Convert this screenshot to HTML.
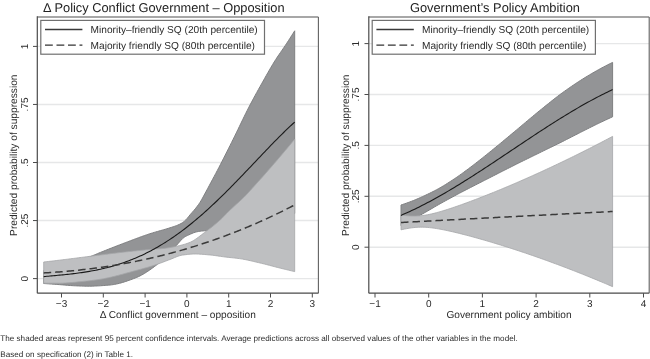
<!DOCTYPE html>
<html><head><meta charset="utf-8"><style>
html,body{margin:0;padding:0;background:#fff;width:650px;height:359px;overflow:hidden}
svg{display:block;will-change:transform}
text{font-family:"Liberation Sans",sans-serif;fill:#2b2b2b;text-rendering:geometricPrecision}
.ti{font-size:12.82px;fill:#222}
.ax{font-size:10.1px}
.lg{font-size:10.13px}
.tk{font-size:10px}
.ft{font-size:8.13px}
</style></head><body>
<svg width="650" height="359" viewBox="0 0 650 359">
<rect width="650" height="359" fill="#fff"/>
<line x1="37.3" y1="278.6" x2="318.4" y2="278.6" stroke="#e6e7e8" stroke-width="1.4"/>
<line x1="37.3" y1="220.55" x2="318.4" y2="220.55" stroke="#e6e7e8" stroke-width="1.4"/>
<line x1="37.3" y1="162.5" x2="318.4" y2="162.5" stroke="#e6e7e8" stroke-width="1.4"/>
<line x1="37.3" y1="104.45" x2="318.4" y2="104.45" stroke="#e6e7e8" stroke-width="1.4"/>
<line x1="37.3" y1="46.4" x2="318.4" y2="46.4" stroke="#e6e7e8" stroke-width="1.4"/>
<path d="M43.70,270.50 L45.28,269.99 L46.86,269.48 L48.44,268.98 L50.01,268.48 L51.59,267.99 L53.17,267.51 L54.75,267.03 L56.33,266.56 L57.91,266.10 L59.49,265.65 L61.06,265.20 L62.64,264.77 L64.22,264.35 L65.80,263.94 L67.38,263.53 L68.96,263.12 L70.54,262.71 L72.12,262.29 L73.69,261.86 L75.27,261.42 L76.85,260.98 L78.43,260.53 L80.01,260.07 L81.59,259.60 L83.17,259.12 L84.74,258.62 L86.32,258.09 L87.90,257.53 L89.48,256.93 L91.06,256.31 L92.64,255.69 L94.22,255.03 L95.79,254.37 L97.37,253.69 L98.95,253.03 L100.53,252.38 L102.11,251.75 L103.69,251.11 L105.27,250.48 L106.84,249.85 L108.42,249.22 L110.00,248.59 L111.58,247.97 L113.16,247.35 L114.74,246.74 L116.32,246.12 L117.89,245.51 L119.47,244.90 L121.05,244.30 L122.63,243.70 L124.21,243.10 L125.79,242.50 L127.37,241.90 L128.95,241.31 L130.52,240.71 L132.10,240.11 L133.68,239.51 L135.26,238.92 L136.84,238.33 L138.42,237.75 L140.00,237.17 L141.57,236.60 L143.15,236.03 L144.73,235.48 L146.31,234.93 L147.89,234.40 L149.47,233.87 L151.05,233.37 L152.62,232.88 L154.20,232.40 L155.78,231.94 L157.36,231.49 L158.94,231.05 L160.52,230.60 L162.10,230.16 L163.67,229.71 L165.25,229.26 L166.83,228.79 L168.41,228.30 L169.99,227.80 L171.57,227.30 L173.15,226.79 L174.73,226.26 L176.30,225.69 L177.88,225.05 L179.46,224.34 L181.04,223.54 L182.62,222.60 L184.20,221.45 L185.78,219.92 L187.35,218.20 L188.93,216.21 L190.51,214.28 L192.09,212.49 L193.67,210.71 L195.25,208.82 L196.83,206.82 L198.40,204.72 L199.98,202.43 L201.56,199.82 L203.14,196.95 L204.72,194.01 L206.30,191.12 L207.88,188.17 L209.45,185.21 L211.03,182.26 L212.61,179.32 L214.19,176.38 L215.77,173.42 L217.35,170.44 L218.93,167.41 L220.51,164.36 L222.08,161.28 L223.66,158.18 L225.24,155.07 L226.82,151.94 L228.40,148.80 L229.98,145.65 L231.56,142.49 L233.13,139.33 L234.71,136.13 L236.29,132.90 L237.87,129.64 L239.45,126.36 L241.03,123.09 L242.61,119.82 L244.18,116.58 L245.76,113.37 L247.34,110.22 L248.92,107.12 L250.50,104.09 L252.08,101.11 L253.66,98.16 L255.23,95.26 L256.81,92.38 L258.39,89.54 L259.97,86.71 L261.55,83.90 L263.13,81.10 L264.71,78.29 L266.28,75.49 L267.86,72.71 L269.44,69.95 L271.02,67.23 L272.60,64.57 L274.18,61.98 L275.76,59.47 L277.34,57.06 L278.91,54.74 L280.49,52.46 L282.07,50.19 L283.65,47.90 L285.23,45.56 L286.81,43.16 L288.39,40.73 L289.96,38.28 L291.54,35.81 L293.12,33.32 L294.70,30.80 L294.70,213.38 L293.12,213.82 L291.54,214.30 L289.96,214.81 L288.39,215.35 L286.81,215.92 L285.23,216.52 L283.65,217.14 L282.07,217.81 L280.49,218.58 L278.91,219.40 L277.34,220.25 L275.76,221.10 L274.18,221.90 L272.60,222.62 L271.02,223.25 L269.44,223.84 L267.86,224.38 L266.28,224.91 L264.71,225.40 L263.13,225.89 L261.55,226.36 L259.97,226.83 L258.39,227.33 L256.81,227.84 L255.23,228.35 L253.66,228.82 L252.08,229.22 L250.50,229.52 L248.92,229.71 L247.34,229.84 L245.76,229.95 L244.18,230.04 L242.61,230.12 L241.03,230.19 L239.45,230.25 L237.87,230.29 L236.29,230.33 L234.71,230.36 L233.13,230.39 L231.56,230.41 L229.98,230.43 L228.40,230.45 L226.82,230.47 L225.24,230.49 L223.66,230.50 L222.08,230.51 L220.51,230.52 L218.93,230.53 L217.35,230.54 L215.77,230.56 L214.19,230.57 L212.61,230.60 L211.03,230.63 L209.45,230.66 L207.88,230.70 L206.30,230.75 L204.72,230.81 L203.14,230.91 L201.56,231.05 L199.98,231.23 L198.40,231.48 L196.83,231.82 L195.25,232.23 L193.67,232.74 L192.09,233.40 L190.51,234.12 L188.93,234.81 L187.35,235.51 L185.78,236.30 L184.20,237.27 L182.62,238.58 L181.04,240.18 L179.46,241.95 L177.88,243.78 L176.30,245.56 L174.73,247.18 L173.15,248.80 L171.57,250.45 L169.99,252.10 L168.41,253.75 L166.83,255.40 L165.25,257.01 L163.67,258.60 L162.10,260.13 L160.52,261.61 L158.94,263.01 L157.36,264.34 L155.78,265.56 L154.20,266.75 L152.62,267.91 L151.05,269.04 L149.47,270.15 L147.89,271.23 L146.31,272.26 L144.73,273.25 L143.15,274.19 L141.57,275.08 L140.00,275.90 L138.42,276.67 L136.84,277.36 L135.26,277.99 L133.68,278.60 L132.10,279.20 L130.52,279.79 L128.95,280.36 L127.37,280.92 L125.79,281.45 L124.21,281.96 L122.63,282.44 L121.05,282.90 L119.47,283.32 L117.89,283.70 L116.32,284.05 L114.74,284.35 L113.16,284.62 L111.58,284.83 L110.00,285.00 L108.42,285.14 L106.84,285.27 L105.27,285.40 L103.69,285.53 L102.11,285.64 L100.53,285.75 L98.95,285.85 L97.37,285.94 L95.79,286.01 L94.22,286.08 L92.64,286.13 L91.06,286.17 L89.48,286.19 L87.90,286.20 L86.32,286.19 L84.74,286.16 L83.17,286.12 L81.59,286.07 L80.01,286.01 L78.43,285.95 L76.85,285.88 L75.27,285.81 L73.69,285.74 L72.12,285.64 L70.54,285.54 L68.96,285.42 L67.38,285.29 L65.80,285.16 L64.22,285.02 L62.64,284.89 L61.06,284.76 L59.49,284.64 L57.91,284.52 L56.33,284.40 L54.75,284.29 L53.17,284.18 L51.59,284.06 L50.01,283.95 L48.44,283.84 L46.86,283.72 L45.28,283.61 L43.70,283.50 Z" fill="#939496" stroke="#7f8082" stroke-width="1.0"/>
<path d="M43.70,262.00 L45.28,261.82 L46.86,261.64 L48.44,261.46 L50.01,261.28 L51.59,261.10 L53.17,260.91 L54.75,260.73 L56.33,260.54 L57.91,260.35 L59.49,260.16 L61.06,259.97 L62.64,259.78 L64.22,259.59 L65.80,259.39 L67.38,259.19 L68.96,259.00 L70.54,258.80 L72.12,258.60 L73.69,258.40 L75.27,258.20 L76.85,258.00 L78.43,257.80 L80.01,257.59 L81.59,257.39 L83.17,257.19 L84.74,256.99 L86.32,256.78 L87.90,256.58 L89.48,256.37 L91.06,256.17 L92.64,255.97 L94.22,255.76 L95.79,255.55 L97.37,255.34 L98.95,255.13 L100.53,254.93 L102.11,254.73 L103.69,254.54 L105.27,254.34 L106.84,254.14 L108.42,253.95 L110.00,253.75 L111.58,253.56 L113.16,253.37 L114.74,253.18 L116.32,252.99 L117.89,252.80 L119.47,252.62 L121.05,252.44 L122.63,252.26 L124.21,252.09 L125.79,251.91 L127.37,251.74 L128.95,251.57 L130.52,251.41 L132.10,251.24 L133.68,251.07 L135.26,250.91 L136.84,250.75 L138.42,250.59 L140.00,250.44 L141.57,250.28 L143.15,250.13 L144.73,249.98 L146.31,249.83 L147.89,249.69 L149.47,249.55 L151.05,249.41 L152.62,249.29 L154.20,249.17 L155.78,249.06 L157.36,248.95 L158.94,248.84 L160.52,248.72 L162.10,248.59 L163.67,248.44 L165.25,248.27 L166.83,248.07 L168.41,247.83 L169.99,247.57 L171.57,247.27 L173.15,246.96 L174.73,246.64 L176.30,246.31 L177.88,245.97 L179.46,245.61 L181.04,245.23 L182.62,244.82 L184.20,244.38 L185.78,243.90 L187.35,243.37 L188.93,242.80 L190.51,242.14 L192.09,241.35 L193.67,240.44 L195.25,239.43 L196.83,238.34 L198.40,237.19 L199.98,236.00 L201.56,234.80 L203.14,233.59 L204.72,232.40 L206.30,231.24 L207.88,230.07 L209.45,228.87 L211.03,227.65 L212.61,226.40 L214.19,225.12 L215.77,223.81 L217.35,222.47 L218.93,221.09 L220.51,219.66 L222.08,218.14 L223.66,216.54 L225.24,214.91 L226.82,213.28 L228.40,211.69 L229.98,210.16 L231.56,208.68 L233.13,207.23 L234.71,205.79 L236.29,204.37 L237.87,202.95 L239.45,201.51 L241.03,200.05 L242.61,198.56 L244.18,197.02 L245.76,195.42 L247.34,193.75 L248.92,192.03 L250.50,190.27 L252.08,188.50 L253.66,186.72 L255.23,184.96 L256.81,183.22 L258.39,181.48 L259.97,179.74 L261.55,177.98 L263.13,176.21 L264.71,174.42 L266.28,172.63 L267.86,170.83 L269.44,169.02 L271.02,167.21 L272.60,165.39 L274.18,163.57 L275.76,161.74 L277.34,159.90 L278.91,158.06 L280.49,156.21 L282.07,154.35 L283.65,152.48 L285.23,150.61 L286.81,148.73 L288.39,146.84 L289.96,144.95 L291.54,143.04 L293.12,141.12 L294.70,139.20 L294.70,271.60 L293.12,271.23 L291.54,270.86 L289.96,270.49 L288.39,270.11 L286.81,269.73 L285.23,269.35 L283.65,268.97 L282.07,268.58 L280.49,268.20 L278.91,267.80 L277.34,267.40 L275.76,267.00 L274.18,266.59 L272.60,266.17 L271.02,265.76 L269.44,265.34 L267.86,264.93 L266.28,264.52 L264.71,264.12 L263.13,263.73 L261.55,263.34 L259.97,262.97 L258.39,262.60 L256.81,262.22 L255.23,261.85 L253.66,261.47 L252.08,261.10 L250.50,260.74 L248.92,260.38 L247.34,260.04 L245.76,259.71 L244.18,259.41 L242.61,259.12 L241.03,258.86 L239.45,258.62 L237.87,258.41 L236.29,258.21 L234.71,258.04 L233.13,257.87 L231.56,257.70 L229.98,257.54 L228.40,257.38 L226.82,257.20 L225.24,257.02 L223.66,256.81 L222.08,256.60 L220.51,256.37 L218.93,256.13 L217.35,255.90 L215.77,255.67 L214.19,255.46 L212.61,255.26 L211.03,255.09 L209.45,254.94 L207.88,254.80 L206.30,254.65 L204.72,254.51 L203.14,254.38 L201.56,254.26 L199.98,254.16 L198.40,254.08 L196.83,254.02 L195.25,254.00 L193.67,254.02 L192.09,254.08 L190.51,254.18 L188.93,254.32 L187.35,254.48 L185.78,254.67 L184.20,254.88 L182.62,255.11 L181.04,255.37 L179.46,255.78 L177.88,256.30 L176.30,256.90 L174.73,257.56 L173.15,258.24 L171.57,258.89 L169.99,259.50 L168.41,260.09 L166.83,260.68 L165.25,261.28 L163.67,261.89 L162.10,262.49 L160.52,263.09 L158.94,263.67 L157.36,264.24 L155.78,264.78 L154.20,265.29 L152.62,265.79 L151.05,266.28 L149.47,266.75 L147.89,267.22 L146.31,267.67 L144.73,268.12 L143.15,268.56 L141.57,269.00 L140.00,269.43 L138.42,269.85 L136.84,270.28 L135.26,270.70 L133.68,271.12 L132.10,271.55 L130.52,271.99 L128.95,272.42 L127.37,272.86 L125.79,273.29 L124.21,273.73 L122.63,274.16 L121.05,274.58 L119.47,275.01 L117.89,275.42 L116.32,275.83 L114.74,276.23 L113.16,276.61 L111.58,276.99 L110.00,277.36 L108.42,277.71 L106.84,278.04 L105.27,278.36 L103.69,278.67 L102.11,278.95 L100.53,279.22 L98.95,279.46 L97.37,279.70 L95.79,279.92 L94.22,280.14 L92.64,280.34 L91.06,280.54 L89.48,280.72 L87.90,280.90 L86.32,281.07 L84.74,281.23 L83.17,281.39 L81.59,281.54 L80.01,281.69 L78.43,281.85 L76.85,282.01 L75.27,282.16 L73.69,282.32 L72.12,282.47 L70.54,282.61 L68.96,282.75 L67.38,282.87 L65.80,282.97 L64.22,283.06 L62.64,283.13 L61.06,283.18 L59.49,283.20 L57.91,283.20 L56.33,283.20 L54.75,283.20 L53.17,283.20 L51.59,283.20 L50.01,283.20 L48.44,283.20 L46.86,283.20 L45.28,283.20 L43.70,283.20 Z" fill="#bebfc1" stroke="#a5a6a8" stroke-width="0.8"/>
<path d="M43.70,276.60 L45.28,276.46 L46.86,276.32 L48.44,276.18 L50.01,276.04 L51.59,275.90 L53.17,275.75 L54.75,275.61 L56.33,275.46 L57.91,275.32 L59.49,275.17 L61.06,275.02 L62.64,274.86 L64.22,274.70 L65.80,274.54 L67.38,274.37 L68.96,274.20 L70.54,274.02 L72.12,273.83 L73.69,273.65 L75.27,273.45 L76.85,273.25 L78.43,273.04 L80.01,272.82 L81.59,272.60 L83.17,272.36 L84.74,272.12 L86.32,271.87 L87.90,271.61 L89.48,271.34 L91.06,271.07 L92.64,270.78 L94.22,270.48 L95.79,270.17 L97.37,269.85 L98.95,269.52 L100.53,269.17 L102.11,268.82 L103.69,268.45 L105.27,268.07 L106.84,267.68 L108.42,267.27 L110.00,266.85 L111.58,266.42 L113.16,265.98 L114.74,265.52 L116.32,265.04 L117.89,264.56 L119.47,264.05 L121.05,263.54 L122.63,263.00 L124.21,262.46 L125.79,261.89 L127.37,261.31 L128.95,260.72 L130.52,260.11 L132.10,259.48 L133.68,258.84 L135.26,258.18 L136.84,257.51 L138.42,256.81 L140.00,256.10 L141.57,255.38 L143.15,254.64 L144.73,253.88 L146.31,253.10 L147.89,252.31 L149.47,251.49 L151.05,250.66 L152.62,249.82 L154.20,248.95 L155.78,248.07 L157.36,247.17 L158.94,246.26 L160.52,245.32 L162.10,244.37 L163.67,243.40 L165.25,242.41 L166.83,241.41 L168.41,240.38 L169.99,239.34 L171.57,238.28 L173.15,237.21 L174.73,236.11 L176.30,235.00 L177.88,233.88 L179.46,232.73 L181.04,231.57 L182.62,230.39 L184.20,229.19 L185.78,227.98 L187.35,226.75 L188.93,225.50 L190.51,224.24 L192.09,222.96 L193.67,221.67 L195.25,220.36 L196.83,219.03 L198.40,217.69 L199.98,216.33 L201.56,214.96 L203.14,213.58 L204.72,212.18 L206.30,210.76 L207.88,209.33 L209.45,207.89 L211.03,206.43 L212.61,204.96 L214.19,203.48 L215.77,201.99 L217.35,200.48 L218.93,198.96 L220.51,197.43 L222.08,195.89 L223.66,194.34 L225.24,192.78 L226.82,191.21 L228.40,189.62 L229.98,188.03 L231.56,186.44 L233.13,184.83 L234.71,183.22 L236.29,181.59 L237.87,179.97 L239.45,178.33 L241.03,176.69 L242.61,175.05 L244.18,173.40 L245.76,171.74 L247.34,170.09 L248.92,168.43 L250.50,166.76 L252.08,165.10 L253.66,163.43 L255.23,161.77 L256.81,160.10 L258.39,158.44 L259.97,156.77 L261.55,155.11 L263.13,153.46 L264.71,151.80 L266.28,150.15 L267.86,148.51 L269.44,146.87 L271.02,145.23 L272.60,143.61 L274.18,141.99 L275.76,140.38 L277.34,138.78 L278.91,137.20 L280.49,135.62 L282.07,134.05 L283.65,132.50 L285.23,130.97 L286.81,129.44 L288.39,127.94 L289.96,126.45 L291.54,124.98 L293.12,123.53 L294.70,122.09" fill="none" stroke="#1a1a1a" stroke-width="1.1"/>
<path d="M43.70,272.91 L45.28,272.83 L46.86,272.74 L48.44,272.64 L50.01,272.54 L51.59,272.44 L53.17,272.34 L54.75,272.23 L56.33,272.11 L57.91,272.00 L59.49,271.88 L61.06,271.75 L62.64,271.63 L64.22,271.49 L65.80,271.36 L67.38,271.22 L68.96,271.08 L70.54,270.93 L72.12,270.78 L73.69,270.63 L75.27,270.47 L76.85,270.30 L78.43,270.14 L80.01,269.97 L81.59,269.79 L83.17,269.62 L84.74,269.43 L86.32,269.25 L87.90,269.06 L89.48,268.86 L91.06,268.67 L92.64,268.46 L94.22,268.26 L95.79,268.05 L97.37,267.83 L98.95,267.62 L100.53,267.39 L102.11,267.17 L103.69,266.94 L105.27,266.70 L106.84,266.46 L108.42,266.22 L110.00,265.97 L111.58,265.72 L113.16,265.47 L114.74,265.21 L116.32,264.94 L117.89,264.68 L119.47,264.40 L121.05,264.13 L122.63,263.85 L124.21,263.56 L125.79,263.27 L127.37,262.98 L128.95,262.68 L130.52,262.38 L132.10,262.07 L133.68,261.76 L135.26,261.45 L136.84,261.13 L138.42,260.80 L140.00,260.47 L141.57,260.14 L143.15,259.80 L144.73,259.46 L146.31,259.11 L147.89,258.76 L149.47,258.41 L151.05,258.05 L152.62,257.69 L154.20,257.32 L155.78,256.94 L157.36,256.57 L158.94,256.18 L160.52,255.80 L162.10,255.41 L163.67,255.01 L165.25,254.61 L166.83,254.20 L168.41,253.79 L169.99,253.38 L171.57,252.96 L173.15,252.54 L174.73,252.11 L176.30,251.68 L177.88,251.24 L179.46,250.79 L181.04,250.35 L182.62,249.90 L184.20,249.44 L185.78,248.98 L187.35,248.51 L188.93,248.04 L190.51,247.56 L192.09,247.08 L193.67,246.60 L195.25,246.11 L196.83,245.61 L198.40,245.11 L199.98,244.61 L201.56,244.10 L203.14,243.58 L204.72,243.06 L206.30,242.54 L207.88,242.01 L209.45,241.47 L211.03,240.93 L212.61,240.39 L214.19,239.84 L215.77,239.29 L217.35,238.73 L218.93,238.16 L220.51,237.59 L222.08,237.02 L223.66,236.44 L225.24,235.85 L226.82,235.26 L228.40,234.67 L229.98,234.07 L231.56,233.46 L233.13,232.85 L234.71,232.24 L236.29,231.62 L237.87,230.99 L239.45,230.36 L241.03,229.72 L242.61,229.08 L244.18,228.44 L245.76,227.78 L247.34,227.13 L248.92,226.46 L250.50,225.80 L252.08,225.12 L253.66,224.44 L255.23,223.76 L256.81,223.07 L258.39,222.38 L259.97,221.68 L261.55,220.97 L263.13,220.26 L264.71,219.55 L266.28,218.82 L267.86,218.10 L269.44,217.37 L271.02,216.63 L272.60,215.89 L274.18,215.14 L275.76,214.38 L277.34,213.62 L278.91,212.86 L280.49,212.09 L282.07,211.31 L283.65,210.53 L285.23,209.74 L286.81,208.95 L288.39,208.15 L289.96,207.35 L291.54,206.54 L293.12,205.72 L294.70,204.90" fill="none" stroke="#3a3a3a" stroke-width="1.5" stroke-dasharray="7.5,4"/>
<line x1="37.3" y1="17" x2="318.4" y2="17" stroke="#8a8a8a" stroke-width="1.4"/>
<line x1="318.4" y1="17" x2="318.4" y2="293.2" stroke="#606060" stroke-width="1.1"/>
<line x1="37.3" y1="16.3" x2="37.3" y2="293.2" stroke="#4a4a4a" stroke-width="1.2"/>
<line x1="37.3" y1="293.2" x2="318.4" y2="293.2" stroke="#4a4a4a" stroke-width="1.2"/>
<line x1="33.0" y1="278.6" x2="37.3" y2="278.6" stroke="#4a4a4a" stroke-width="1"/>
<text transform="translate(27.799999999999997,278.6) rotate(-90)" text-anchor="middle" class="tk">0</text>
<line x1="33.0" y1="220.55" x2="37.3" y2="220.55" stroke="#4a4a4a" stroke-width="1"/>
<text transform="translate(27.799999999999997,220.55) rotate(-90)" text-anchor="middle" class="tk">.25</text>
<line x1="33.0" y1="162.5" x2="37.3" y2="162.5" stroke="#4a4a4a" stroke-width="1"/>
<text transform="translate(27.799999999999997,162.5) rotate(-90)" text-anchor="middle" class="tk">.5</text>
<line x1="33.0" y1="104.45" x2="37.3" y2="104.45" stroke="#4a4a4a" stroke-width="1"/>
<text transform="translate(27.799999999999997,104.45) rotate(-90)" text-anchor="middle" class="tk">.75</text>
<line x1="33.0" y1="46.4" x2="37.3" y2="46.4" stroke="#4a4a4a" stroke-width="1"/>
<text transform="translate(27.799999999999997,46.4) rotate(-90)" text-anchor="middle" class="tk">1</text>
<line x1="61.500000000000014" y1="293.2" x2="61.500000000000014" y2="297.5" stroke="#4a4a4a" stroke-width="1"/>
<text x="61.500000000000014" y="306.9" text-anchor="middle" class="tk">−3</text>
<line x1="103.30000000000001" y1="293.2" x2="103.30000000000001" y2="297.5" stroke="#4a4a4a" stroke-width="1"/>
<text x="103.30000000000001" y="306.9" text-anchor="middle" class="tk">−2</text>
<line x1="145.10000000000002" y1="293.2" x2="145.10000000000002" y2="297.5" stroke="#4a4a4a" stroke-width="1"/>
<text x="145.10000000000002" y="306.9" text-anchor="middle" class="tk">−1</text>
<line x1="186.9" y1="293.2" x2="186.9" y2="297.5" stroke="#4a4a4a" stroke-width="1"/>
<text x="186.9" y="306.9" text-anchor="middle" class="tk">0</text>
<line x1="228.7" y1="293.2" x2="228.7" y2="297.5" stroke="#4a4a4a" stroke-width="1"/>
<text x="228.7" y="306.9" text-anchor="middle" class="tk">1</text>
<line x1="270.5" y1="293.2" x2="270.5" y2="297.5" stroke="#4a4a4a" stroke-width="1"/>
<text x="270.5" y="306.9" text-anchor="middle" class="tk">2</text>
<line x1="312.3" y1="293.2" x2="312.3" y2="297.5" stroke="#4a4a4a" stroke-width="1"/>
<text x="312.3" y="306.9" text-anchor="middle" class="tk">3</text>
<text x="43.1" y="11.5" class="ti">Δ Policy Conflict Government – Opposition</text>
<text x="177.85" y="318" text-anchor="middle" class="ax">Δ Conflict government – opposition</text>
<text transform="translate(16.999999999999996,155.2) rotate(-90)" text-anchor="middle" class="ax" style="font-size:10.2px">Predicted probability of suppression</text>
<rect x="40.8" y="20.4" width="223.7" height="33.800000000000004" fill="#fff" stroke="#707070" stroke-width="1.2"/>
<line x1="45.0" y1="29.5" x2="82.4" y2="29.5" stroke="#3a3a3a" stroke-width="1.3"/>
<line x1="45.0" y1="45.2" x2="82.4" y2="45.2" stroke="#333" stroke-width="1.25" stroke-dasharray="7.8,3.7"/>
<text x="90.6" y="33.3" class="lg">Minority–friendly SQ (20th percentile)</text>
<text x="90.6" y="48.8" class="lg">Majority friendly SQ (80th percentile)</text>
<line x1="368.8" y1="247.2" x2="649.2" y2="247.2" stroke="#e6e7e8" stroke-width="1.4"/>
<line x1="368.8" y1="196.3" x2="649.2" y2="196.3" stroke="#e6e7e8" stroke-width="1.4"/>
<line x1="368.8" y1="145.4" x2="649.2" y2="145.4" stroke="#e6e7e8" stroke-width="1.4"/>
<line x1="368.8" y1="94.5" x2="649.2" y2="94.5" stroke="#e6e7e8" stroke-width="1.4"/>
<line x1="368.8" y1="43.6" x2="649.2" y2="43.6" stroke="#e6e7e8" stroke-width="1.4"/>
<path d="M401.00,204.99 L402.78,204.41 L404.56,203.81 L406.33,203.20 L408.11,202.56 L409.89,201.90 L411.67,201.22 L413.45,200.52 L415.23,199.80 L417.00,199.06 L418.78,198.29 L420.56,197.50 L422.34,196.69 L424.12,195.88 L425.89,195.05 L427.67,194.21 L429.45,193.35 L431.23,192.48 L433.01,191.58 L434.78,190.66 L436.56,189.72 L438.34,188.75 L440.12,187.76 L441.90,186.73 L443.68,185.67 L445.45,184.58 L447.23,183.47 L449.01,182.33 L450.79,181.18 L452.57,180.02 L454.34,178.85 L456.12,177.66 L457.90,176.44 L459.68,175.20 L461.46,173.92 L463.24,172.63 L465.01,171.32 L466.79,170.00 L468.57,168.67 L470.35,167.33 L472.13,165.99 L473.90,164.63 L475.68,163.26 L477.46,161.87 L479.24,160.48 L481.02,159.07 L482.79,157.66 L484.57,156.24 L486.35,154.81 L488.13,153.38 L489.91,151.94 L491.69,150.50 L493.46,149.05 L495.24,147.60 L497.02,146.15 L498.80,144.69 L500.58,143.22 L502.35,141.75 L504.13,140.27 L505.91,138.80 L507.69,137.31 L509.47,135.83 L511.25,134.35 L513.02,132.86 L514.80,131.38 L516.58,129.89 L518.36,128.40 L520.14,126.91 L521.91,125.41 L523.69,123.92 L525.47,122.42 L527.25,120.93 L529.03,119.43 L530.81,117.94 L532.58,116.46 L534.36,114.98 L536.14,113.52 L537.92,112.06 L539.70,110.61 L541.47,109.17 L543.25,107.73 L545.03,106.29 L546.81,104.86 L548.59,103.43 L550.36,102.01 L552.14,100.60 L553.92,99.20 L555.70,97.81 L557.48,96.45 L559.26,95.10 L561.03,93.77 L562.81,92.47 L564.59,91.19 L566.37,89.93 L568.15,88.69 L569.92,87.46 L571.70,86.24 L573.48,85.04 L575.26,83.84 L577.04,82.67 L578.82,81.51 L580.59,80.36 L582.37,79.23 L584.15,78.12 L585.93,77.02 L587.71,75.94 L589.48,74.88 L591.26,73.83 L593.04,72.80 L594.82,71.78 L596.60,70.77 L598.37,69.78 L600.15,68.80 L601.93,67.84 L603.71,66.89 L605.49,65.96 L607.27,65.04 L609.04,64.15 L610.82,63.27 L612.60,62.42 L612.60,116.82 L610.82,117.62 L609.04,118.44 L607.27,119.26 L605.49,120.08 L603.71,120.92 L601.93,121.75 L600.15,122.60 L598.37,123.45 L596.60,124.31 L594.82,125.18 L593.04,126.06 L591.26,126.94 L589.48,127.83 L587.71,128.73 L585.93,129.62 L584.15,130.52 L582.37,131.42 L580.59,132.32 L578.82,133.23 L577.04,134.13 L575.26,135.04 L573.48,135.94 L571.70,136.85 L569.92,137.77 L568.15,138.68 L566.37,139.59 L564.59,140.51 L562.81,141.42 L561.03,142.31 L559.26,143.20 L557.48,144.07 L555.70,144.94 L553.92,145.81 L552.14,146.66 L550.36,147.52 L548.59,148.38 L546.81,149.24 L545.03,150.10 L543.25,150.96 L541.47,151.84 L539.70,152.72 L537.92,153.60 L536.14,154.47 L534.36,155.34 L532.58,156.21 L530.81,157.08 L529.03,157.95 L527.25,158.82 L525.47,159.69 L523.69,160.56 L521.91,161.43 L520.14,162.31 L518.36,163.19 L516.58,164.08 L514.80,164.98 L513.02,165.87 L511.25,166.77 L509.47,167.67 L507.69,168.56 L505.91,169.46 L504.13,170.36 L502.35,171.26 L500.58,172.16 L498.80,173.07 L497.02,173.97 L495.24,174.88 L493.46,175.79 L491.69,176.70 L489.91,177.61 L488.13,178.52 L486.35,179.43 L484.57,180.33 L482.79,181.23 L481.02,182.14 L479.24,183.05 L477.46,183.95 L475.68,184.86 L473.90,185.78 L472.13,186.69 L470.35,187.61 L468.57,188.54 L466.79,189.45 L465.01,190.36 L463.24,191.27 L461.46,192.19 L459.68,193.11 L457.90,194.05 L456.12,195.00 L454.34,195.97 L452.57,196.94 L450.79,197.90 L449.01,198.87 L447.23,199.83 L445.45,200.80 L443.68,201.77 L441.90,202.76 L440.12,203.76 L438.34,204.77 L436.56,205.79 L434.78,206.82 L433.01,207.86 L431.23,208.90 L429.45,209.93 L427.67,210.97 L425.89,212.00 L424.12,213.02 L422.34,214.03 L420.56,215.04 L418.78,216.03 L417.00,217.02 L415.23,218.01 L413.45,219.00 L411.67,219.98 L409.89,220.96 L408.11,221.94 L406.33,222.91 L404.56,223.88 L402.78,224.84 L401.00,225.79 Z" fill="#939496" stroke="#7f8082" stroke-width="1.0"/>
<path d="M401.00,215.16 L402.78,215.36 L404.56,215.54 L406.33,215.70 L408.11,215.83 L409.89,215.93 L411.67,216.00 L413.45,216.03 L415.23,216.02 L417.00,215.97 L418.78,215.87 L420.56,215.72 L422.34,215.53 L424.12,215.30 L425.89,215.02 L427.67,214.70 L429.45,214.35 L431.23,213.97 L433.01,213.55 L434.78,213.11 L436.56,212.65 L438.34,212.16 L440.12,211.66 L441.90,211.14 L443.68,210.60 L445.45,210.05 L447.23,209.49 L449.01,208.91 L450.79,208.33 L452.57,207.74 L454.34,207.14 L456.12,206.52 L457.90,205.91 L459.68,205.28 L461.46,204.65 L463.24,204.01 L465.01,203.37 L466.79,202.72 L468.57,202.06 L470.35,201.40 L472.13,200.73 L473.90,200.06 L475.68,199.38 L477.46,198.70 L479.24,198.02 L481.02,197.33 L482.79,196.63 L484.57,195.93 L486.35,195.23 L488.13,194.52 L489.91,193.81 L491.69,193.10 L493.46,192.38 L495.24,191.66 L497.02,190.93 L498.80,190.20 L500.58,189.47 L502.35,188.73 L504.13,187.99 L505.91,187.24 L507.69,186.49 L509.47,185.74 L511.25,184.98 L513.02,184.22 L514.80,183.46 L516.58,182.69 L518.36,181.92 L520.14,181.15 L521.91,180.37 L523.69,179.59 L525.47,178.81 L527.25,178.02 L529.03,177.23 L530.81,176.44 L532.58,175.64 L534.36,174.84 L536.14,174.04 L537.92,173.23 L539.70,172.42 L541.47,171.61 L543.25,170.79 L545.03,169.97 L546.81,169.14 L548.59,168.32 L550.36,167.49 L552.14,166.65 L553.92,165.82 L555.70,164.98 L557.48,164.13 L559.26,163.29 L561.03,162.44 L562.81,161.58 L564.59,160.73 L566.37,159.87 L568.15,159.00 L569.92,158.14 L571.70,157.27 L573.48,156.40 L575.26,155.52 L577.04,154.64 L578.82,153.76 L580.59,152.87 L582.37,151.99 L584.15,151.09 L585.93,150.20 L587.71,149.30 L589.48,148.40 L591.26,147.50 L593.04,146.59 L594.82,145.68 L596.60,144.76 L598.37,143.85 L600.15,142.93 L601.93,142.00 L603.71,141.07 L605.49,140.14 L607.27,139.21 L609.04,138.28 L610.82,137.34 L612.60,136.39 L612.60,286.66 L610.82,285.89 L609.04,285.13 L607.27,284.37 L605.49,283.62 L603.71,282.87 L601.93,282.12 L600.15,281.38 L598.37,280.64 L596.60,279.90 L594.82,279.17 L593.04,278.44 L591.26,277.71 L589.48,276.99 L587.71,276.26 L585.93,275.55 L584.15,274.83 L582.37,274.12 L580.59,273.41 L578.82,272.71 L577.04,272.01 L575.26,271.31 L573.48,270.61 L571.70,269.92 L569.92,269.24 L568.15,268.55 L566.37,267.87 L564.59,267.19 L562.81,266.52 L561.03,265.84 L559.26,265.18 L557.48,264.51 L555.70,263.85 L553.92,263.19 L552.14,262.54 L550.36,261.89 L548.59,261.24 L546.81,260.59 L545.03,259.95 L543.25,259.31 L541.47,258.68 L539.70,258.05 L537.92,257.42 L536.14,256.80 L534.36,256.18 L532.58,255.56 L530.81,254.94 L529.03,254.33 L527.25,253.73 L525.47,253.12 L523.69,252.52 L521.91,251.93 L520.14,251.33 L518.36,250.74 L516.58,250.16 L514.80,249.57 L513.02,249.00 L511.25,248.42 L509.47,247.85 L507.69,247.28 L505.91,246.72 L504.13,246.16 L502.35,245.60 L500.58,245.04 L498.80,244.50 L497.02,243.95 L495.24,243.41 L493.46,242.87 L491.69,242.34 L489.91,241.81 L488.13,241.28 L486.35,240.76 L484.57,240.24 L482.79,239.73 L481.02,239.22 L479.24,238.72 L477.46,238.22 L475.68,237.72 L473.90,237.23 L472.13,236.74 L470.35,236.26 L468.57,235.79 L466.79,235.32 L465.01,234.86 L463.24,234.40 L461.46,233.95 L459.68,233.50 L457.90,233.06 L456.12,232.63 L454.34,232.21 L452.57,231.79 L450.79,231.39 L449.01,230.99 L447.23,230.60 L445.45,230.23 L443.68,229.87 L441.90,229.52 L440.12,229.18 L438.34,228.87 L436.56,228.57 L434.78,228.29 L433.01,228.04 L431.23,227.82 L429.45,227.62 L427.67,227.45 L425.89,227.33 L424.12,227.24 L422.34,227.19 L420.56,227.19 L418.78,227.23 L417.00,227.32 L415.23,227.46 L413.45,227.63 L411.67,227.85 L409.89,228.11 L408.11,228.40 L406.33,228.72 L404.56,229.07 L402.78,229.44 L401.00,229.83 Z" fill="#bebfc1" stroke="#a5a6a8" stroke-width="0.8"/>
<path d="M401.00,215.39 L402.78,214.62 L404.56,213.85 L406.33,213.05 L408.11,212.25 L409.89,211.43 L411.67,210.60 L413.45,209.76 L415.23,208.90 L417.00,208.04 L418.78,207.16 L420.56,206.27 L422.34,205.36 L424.12,204.45 L425.89,203.53 L427.67,202.59 L429.45,201.64 L431.23,200.69 L433.01,199.72 L434.78,198.74 L436.56,197.76 L438.34,196.76 L440.12,195.76 L441.90,194.74 L443.68,193.72 L445.45,192.69 L447.23,191.65 L449.01,190.60 L450.79,189.54 L452.57,188.48 L454.34,187.41 L456.12,186.33 L457.90,185.25 L459.68,184.16 L461.46,183.06 L463.24,181.95 L465.01,180.84 L466.79,179.72 L468.57,178.60 L470.35,177.47 L472.13,176.34 L473.90,175.20 L475.68,174.06 L477.46,172.91 L479.24,171.76 L481.02,170.61 L482.79,169.45 L484.57,168.28 L486.35,167.12 L488.13,165.95 L489.91,164.78 L491.69,163.60 L493.46,162.42 L495.24,161.24 L497.02,160.06 L498.80,158.88 L500.58,157.69 L502.35,156.50 L504.13,155.32 L505.91,154.13 L507.69,152.94 L509.47,151.75 L511.25,150.56 L513.02,149.37 L514.80,148.18 L516.58,146.99 L518.36,145.80 L520.14,144.61 L521.91,143.42 L523.69,142.24 L525.47,141.05 L527.25,139.87 L529.03,138.69 L530.81,137.51 L532.58,136.34 L534.36,135.16 L536.14,133.99 L537.92,132.83 L539.70,131.66 L541.47,130.50 L543.25,129.35 L545.03,128.19 L546.81,127.05 L548.59,125.90 L550.36,124.76 L552.14,123.63 L553.92,122.50 L555.70,121.38 L557.48,120.26 L559.26,119.15 L561.03,118.04 L562.81,116.94 L564.59,115.85 L566.37,114.76 L568.15,113.68 L569.92,112.61 L571.70,111.55 L573.48,110.49 L575.26,109.44 L577.04,108.40 L578.82,107.37 L580.59,106.34 L582.37,105.33 L584.15,104.32 L585.93,103.32 L587.71,102.33 L589.48,101.36 L591.26,100.39 L593.04,99.43 L594.82,98.48 L596.60,97.54 L598.37,96.62 L600.15,95.70 L601.93,94.79 L603.71,93.90 L605.49,93.02 L607.27,92.15 L609.04,91.29 L610.82,90.45 L612.60,89.62" fill="none" stroke="#1a1a1a" stroke-width="1.1"/>
<path d="M401.00,222.50 L402.78,222.40 L404.56,222.31 L406.33,222.21 L408.11,222.12 L409.89,222.02 L411.67,221.93 L413.45,221.83 L415.23,221.74 L417.00,221.64 L418.78,221.55 L420.56,221.46 L422.34,221.36 L424.12,221.27 L425.89,221.17 L427.67,221.08 L429.45,220.98 L431.23,220.89 L433.01,220.80 L434.78,220.70 L436.56,220.61 L438.34,220.51 L440.12,220.42 L441.90,220.33 L443.68,220.23 L445.45,220.14 L447.23,220.05 L449.01,219.95 L450.79,219.86 L452.57,219.76 L454.34,219.67 L456.12,219.58 L457.90,219.48 L459.68,219.39 L461.46,219.30 L463.24,219.20 L465.01,219.11 L466.79,219.02 L468.57,218.92 L470.35,218.83 L472.13,218.74 L473.90,218.65 L475.68,218.55 L477.46,218.46 L479.24,218.37 L481.02,218.27 L482.79,218.18 L484.57,218.09 L486.35,218.00 L488.13,217.90 L489.91,217.81 L491.69,217.72 L493.46,217.63 L495.24,217.53 L497.02,217.44 L498.80,217.35 L500.58,217.26 L502.35,217.16 L504.13,217.07 L505.91,216.98 L507.69,216.89 L509.47,216.79 L511.25,216.70 L513.02,216.61 L514.80,216.52 L516.58,216.43 L518.36,216.33 L520.14,216.24 L521.91,216.15 L523.69,216.06 L525.47,215.97 L527.25,215.87 L529.03,215.78 L530.81,215.69 L532.58,215.60 L534.36,215.51 L536.14,215.42 L537.92,215.33 L539.70,215.23 L541.47,215.14 L543.25,215.05 L545.03,214.96 L546.81,214.87 L548.59,214.78 L550.36,214.69 L552.14,214.60 L553.92,214.50 L555.70,214.41 L557.48,214.32 L559.26,214.23 L561.03,214.14 L562.81,214.05 L564.59,213.96 L566.37,213.87 L568.15,213.78 L569.92,213.69 L571.70,213.60 L573.48,213.51 L575.26,213.42 L577.04,213.32 L578.82,213.23 L580.59,213.14 L582.37,213.05 L584.15,212.96 L585.93,212.87 L587.71,212.78 L589.48,212.69 L591.26,212.60 L593.04,212.51 L594.82,212.42 L596.60,212.33 L598.37,212.24 L600.15,212.15 L601.93,212.06 L603.71,211.97 L605.49,211.88 L607.27,211.79 L609.04,211.70 L610.82,211.61 L612.60,211.52" fill="none" stroke="#3a3a3a" stroke-width="1.5" stroke-dasharray="7.5,4"/>
<line x1="368.8" y1="17" x2="649.2" y2="17" stroke="#8a8a8a" stroke-width="1.4"/>
<line x1="649.2" y1="17" x2="649.2" y2="293.2" stroke="#606060" stroke-width="1.1"/>
<line x1="368.8" y1="16.3" x2="368.8" y2="293.2" stroke="#4a4a4a" stroke-width="1.2"/>
<line x1="368.8" y1="293.2" x2="649.2" y2="293.2" stroke="#4a4a4a" stroke-width="1.2"/>
<line x1="364.5" y1="247.2" x2="368.8" y2="247.2" stroke="#4a4a4a" stroke-width="1"/>
<text transform="translate(359.3,247.2) rotate(-90)" text-anchor="middle" class="tk">0</text>
<line x1="364.5" y1="196.3" x2="368.8" y2="196.3" stroke="#4a4a4a" stroke-width="1"/>
<text transform="translate(359.3,196.3) rotate(-90)" text-anchor="middle" class="tk">.25</text>
<line x1="364.5" y1="145.4" x2="368.8" y2="145.4" stroke="#4a4a4a" stroke-width="1"/>
<text transform="translate(359.3,145.4) rotate(-90)" text-anchor="middle" class="tk">.5</text>
<line x1="364.5" y1="94.5" x2="368.8" y2="94.5" stroke="#4a4a4a" stroke-width="1"/>
<text transform="translate(359.3,94.5) rotate(-90)" text-anchor="middle" class="tk">.75</text>
<line x1="364.5" y1="43.6" x2="368.8" y2="43.6" stroke="#4a4a4a" stroke-width="1"/>
<text transform="translate(359.3,43.6) rotate(-90)" text-anchor="middle" class="tk">1</text>
<line x1="375.0" y1="293.2" x2="375.0" y2="297.5" stroke="#4a4a4a" stroke-width="1"/>
<text x="375.0" y="306.9" text-anchor="middle" class="tk">−1</text>
<line x1="428.7" y1="293.2" x2="428.7" y2="297.5" stroke="#4a4a4a" stroke-width="1"/>
<text x="428.7" y="306.9" text-anchor="middle" class="tk">0</text>
<line x1="482.4" y1="293.2" x2="482.4" y2="297.5" stroke="#4a4a4a" stroke-width="1"/>
<text x="482.4" y="306.9" text-anchor="middle" class="tk">1</text>
<line x1="536.1" y1="293.2" x2="536.1" y2="297.5" stroke="#4a4a4a" stroke-width="1"/>
<text x="536.1" y="306.9" text-anchor="middle" class="tk">2</text>
<line x1="589.8" y1="293.2" x2="589.8" y2="297.5" stroke="#4a4a4a" stroke-width="1"/>
<text x="589.8" y="306.9" text-anchor="middle" class="tk">3</text>
<line x1="643.5" y1="293.2" x2="643.5" y2="297.5" stroke="#4a4a4a" stroke-width="1"/>
<text x="643.5" y="306.9" text-anchor="middle" class="tk">4</text>
<text x="410" y="11.5" class="ti">Government’s Policy Ambition</text>
<text x="509.0" y="318" text-anchor="middle" class="ax">Government policy ambition</text>
<text transform="translate(348.5,155.2) rotate(-90)" text-anchor="middle" class="ax" style="font-size:10.2px">Predicted probability of suppression</text>
<rect x="372.2" y="20.4" width="223.2" height="33.800000000000004" fill="#fff" stroke="#707070" stroke-width="1.2"/>
<line x1="376.4" y1="29.5" x2="413.8" y2="29.5" stroke="#3a3a3a" stroke-width="1.3"/>
<line x1="376.4" y1="45.2" x2="413.8" y2="45.2" stroke="#333" stroke-width="1.25" stroke-dasharray="7.8,3.7"/>
<text x="422.0" y="33.3" class="lg">Minority–friendly SQ (20th percentile)</text>
<text x="422.0" y="48.8" class="lg">Majority friendly SQ (80th percentile)</text>
<text x="0.3" y="341" class="ft">The shaded areas represent 95 percent confidence intervals. Average predictions across all observed values of the other variables in the model.</text>
<text x="0.3" y="357" class="ft">Based on specification (2) in Table 1.</text>
</svg>
</body></html>
